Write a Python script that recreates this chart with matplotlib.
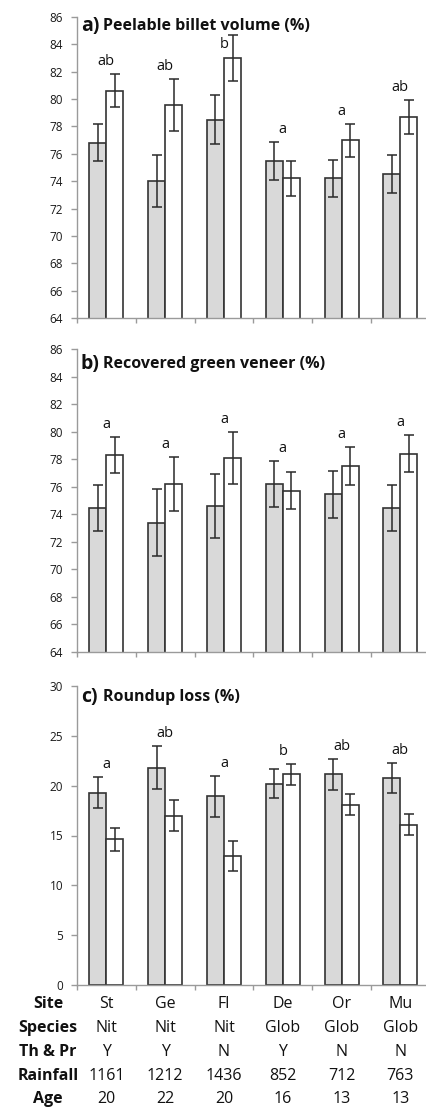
import numpy as np
import matplotlib
matplotlib.use("Agg")
import matplotlib.pyplot as plt
from matplotlib.transforms import blended_transform_factory

plt.rcParams["font.family"] = ["Open Sans", "DejaVu Sans"]

sites = ["St", "Ge", "Fl", "De", "Or", "Mu"]
species = ["Nit", "Nit", "Nit", "Glob", "Glob", "Glob"]
thin_prune = ["Y", "Y", "N", "Y", "N", "N"]
rainfall = ["1161", "1212", "1436", "852", "712", "763"]
age = ["20", "22", "20", "16", "13", "13"]

# a) Peelable billet volume (%)
peel_grey = [76.8, 74.0, 78.5, 75.5, 74.2, 74.5]
peel_grey_err = [1.35, 1.9, 1.8, 1.4, 1.35, 1.4]
peel_white = [80.6, 79.6, 83.0, 74.2, 77.0, 78.7]
peel_white_err = [1.2, 1.9, 1.65, 1.25, 1.2, 1.25]
peel_letters = ["ab", "ab", "b", "a", "a", "ab"]

# b) Recovered green veneer (%)
green_grey = [74.45, 73.4, 74.6, 76.2, 75.45, 74.45]
green_grey_err = [1.7, 2.4, 2.3, 1.7, 1.7, 1.7]
green_white = [78.3, 76.2, 78.1, 75.7, 77.5, 78.4]
green_white_err = [1.3, 1.95, 1.9, 1.35, 1.4, 1.35]
green_letters = ["a", "a", "a", "a", "a", "a"]

# c) Roundup loss (%)
loss_grey = [19.3, 21.8, 18.95, 20.2, 21.15, 20.8]
loss_grey_err = [1.55, 2.15, 2.05, 1.45, 1.55, 1.5]
loss_white = [14.6, 17.0, 12.9, 21.15, 18.1, 16.1]
loss_white_err = [1.15, 1.55, 1.5, 1.05, 1.05, 1.05]
loss_letters = ["a", "ab", "a", "b", "ab", "ab"]

W, H = 426, 1110
fig = plt.figure(figsize=(W / 100, H / 100), dpi=100)

panels = [
    # (tag, title, grey, grey_err, white, white_err, letters, ylim, step, top_px, bottom_px, title_px)
    ("a)", "Peelable billet volume (%)", peel_grey, peel_grey_err, peel_white,
     peel_white_err, peel_letters, (64, 86), 2, 17, 318, 9),
    ("b)", "Recovered green veneer (%)", green_grey, green_grey_err, green_white,
     green_white_err, green_letters, (64, 86), 2, 349, 652, 15),
    ("c)", "Roundup loss (%)", loss_grey, loss_grey_err, loss_white,
     loss_white_err, loss_letters, (0, 30), 5, 686, 985, 11),
]

left_px, cat_px = 77, 58.8
bw = 0.29
spine_col = "#9a9a9a"
edge_col = "#333333"
ekw = dict(ecolor="#2a2a2a", elinewidth=1.1, capsize=3.5, capthick=1.1)

x = np.arange(len(sites))
for tag, title, g, ge, wv, we, lets, ylim, step, top, bot, tpx in panels:
    ax = fig.add_axes([left_px / W, (H - bot) / H, 6 * cat_px / W, (bot - top) / H])
    ax.bar(x - bw / 2, g, bw, color="#d9d9d9", edgecolor=edge_col, linewidth=1.2,
           yerr=ge, error_kw=ekw)
    ax.bar(x + bw / 2, wv, bw, color="white", edgecolor=edge_col, linewidth=1.2,
           yerr=we, error_kw=ekw)
    ax.set_xlim(-0.5, 5.5)
    ax.set_ylim(*ylim)
    ax.set_yticks(np.arange(ylim[0], ylim[1] + 0.1, step))
    ax.set_xticks(np.arange(-0.5, 5.6, 1))
    ax.set_xticklabels([])
    for s in ["top", "right"]:
        ax.spines[s].set_visible(False)
    for s in ["left", "bottom"]:
        ax.spines[s].set_color(spine_col)
        ax.spines[s].set_linewidth(1.0)
    ax.tick_params(axis="y", direction="out", length=4.5, width=1.0, color=spine_col,
                   labelsize=8.5, pad=5.5, labelcolor="#1a1a1a")
    ax.tick_params(axis="x", direction="out", length=3.6, width=1.0, color=spine_col)

    px_per_unit = (bot - top) / (ylim[1] - ylim[0])
    off = 12.5 / px_per_unit
    for i, lab in enumerate(lets):
        ytop = max(g[i] + ge[i], wv[i] + we[i])
        yl = min(ytop + off, ylim[1] - 2)
        ax.text(x[i], yl, lab, ha="center", va="center", fontsize=10.5, color="#111111")

    ty = 1 - tpx / (bot - top)
    ax.text(4 / (6 * cat_px), ty, tag, transform=ax.transAxes, ha="left", va="center",
            fontsize=14, fontweight="bold", color="#111111")
    ax.text(26 / (6 * cat_px), ty, title, transform=ax.transAxes, ha="left", va="center",
            fontsize=11.5, fontweight="bold", color="#111111")

# table under the last panel
trans = blended_transform_factory(ax.transData, fig.transFigure)
rows = [("Site", sites), ("Species", species), ("Th & Pr", thin_prune),
        ("Rainfall", rainfall), ("Age", age)]
row_px = [1004, 1028, 1052, 1076, 1099]
for (name, vals), ypx in zip(rows, row_px):
    yf = 1 - ypx / H
    fig.text(48 / W, yf, name, ha="center", va="center", fontsize=11.5,
             fontweight="bold", color="#111111")
    for i, v in enumerate(vals):
        fig.text(x[i], yf, v, transform=trans, ha="center", va="center",
                 fontsize=11.5, color="#111111")

fig.savefig("out.png", dpi=100)
